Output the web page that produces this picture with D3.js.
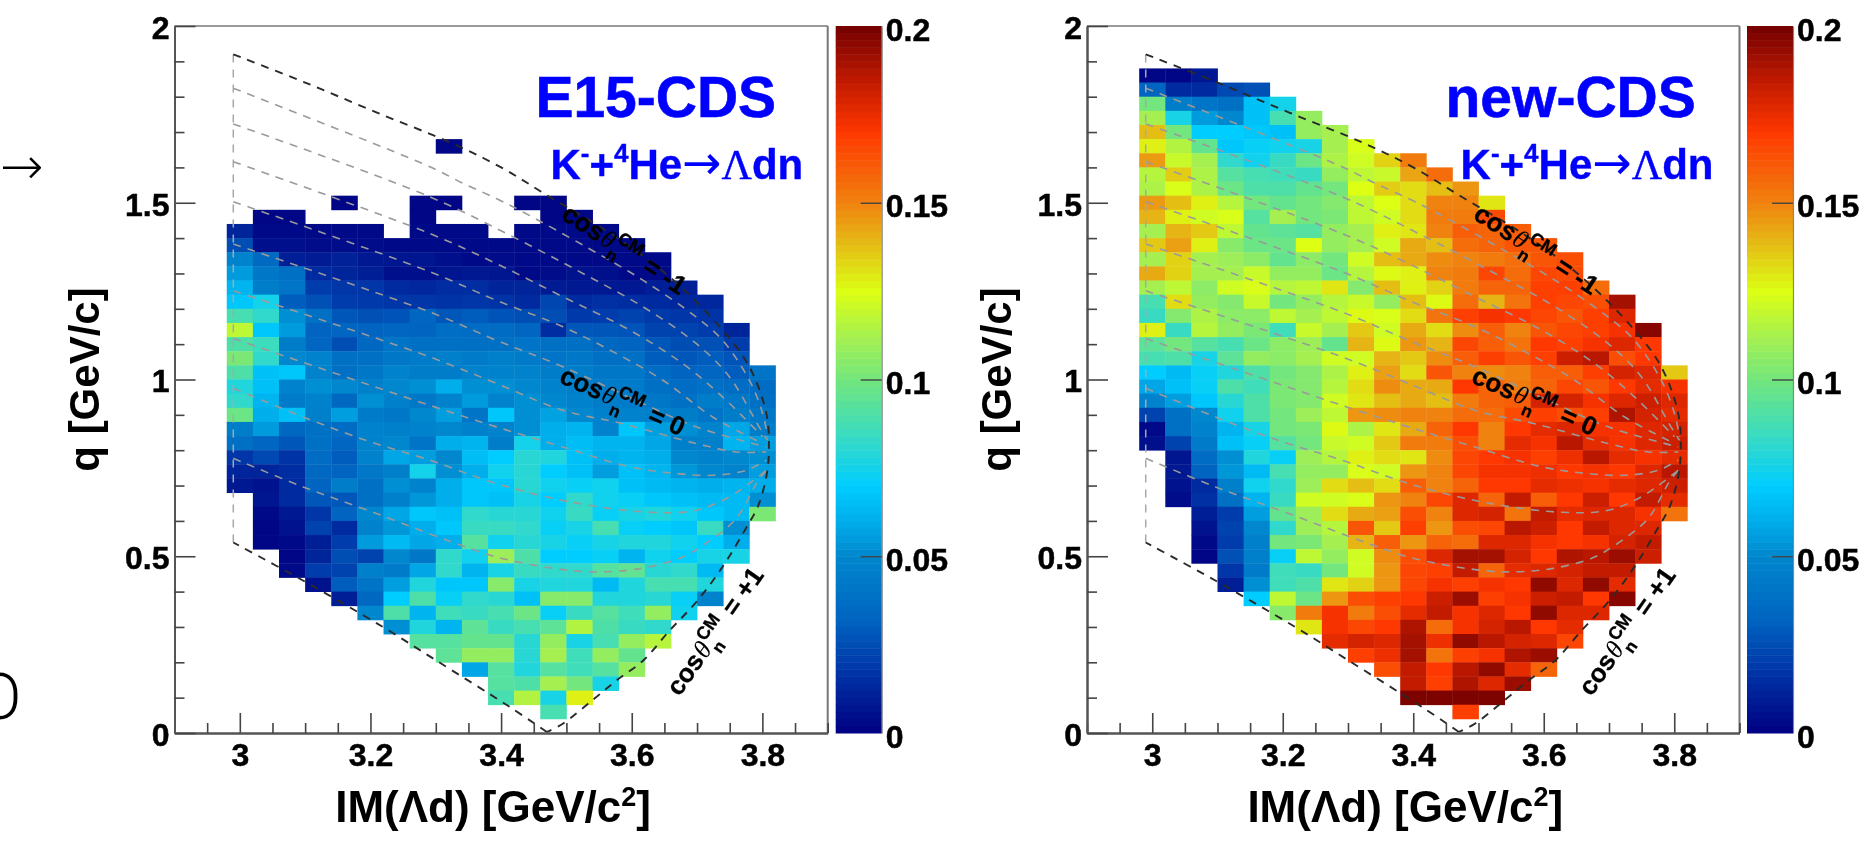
<!DOCTYPE html>
<html><head><meta charset="utf-8">
<style>
html,body{margin:0;padding:0;background:#fff;overflow:hidden}
svg{display:block;filter:blur(0.75px)}
text{font-family:"Liberation Sans",Arial,sans-serif;font-weight:700}
</style>
<script src="https://cdn.jsdelivr.net/npm/d3@7/dist/d3.min.js"></script>
</head><body><svg id="c" width="1863" height="846"></svg>
<script>
// Bins (GeV): first column left edge, first row top edge, bin widths
const binX0 = 2.98, binQTop = 1.88, binW = 0.04;
// value scale in thousandths; rows run from the top of the plot (k=0) downward
const e15Start = [0,0,0,0,0,8,0,0,0,4,1,0,0,0,0,0,0,0,0,0,0,0,0,0,0,0,0,0,0,0,1,1,1,1,2,2,3,4,5,6,7,8,9,10,10,12];
const e15Rows = [
[],[],[],[],[],[2],[],[],[],
[2,null,null,2,2,null,null,2,2],
[2,2,null,null,null,null,2,null,null,null,null,2,2],
[12,3,3,3,3,3,null,3,3,3,null,3,3,3,3],
[25,5,5,4,4,4,3,3,3,3,3,3,3,3,3,3],
[48,35,10,9,11,8,7,7,5,3,4,3,3,3,3,3,3],
[55,42,38,14,12,10,5,5,7,8,7,3,4,6,5,3,3],
[62,45,40,20,18,18,14,13,15,15,12,12,9,8,8,8,10,10],
[68,75,30,26,20,19,18,18,17,18,17,14,23,14,16,15,14,13,13],
[88,82,52,38,28,26,27,33,28,30,27,25,25,19,20,22,19,18,17],
[118,68,55,32,33,32,33,32,37,36,36,33,15,28,28,27,22,22,20,12],
[90,85,45,33,25,34,40,38,38,38,38,40,38,38,34,32,28,25,26,20],
[102,82,50,48,38,38,42,44,46,44,46,44,40,42,38,38,30,28,30,27],
[90,66,68,48,38,42,48,45,45,48,48,48,45,45,42,42,36,32,33,30,40],
[78,66,48,52,50,46,50,52,60,52,52,50,48,46,44,44,38,36,38,36,36],
[82,62,44,47,34,52,46,42,48,55,48,52,50,48,45,44,42,38,45,42,38],
[98,60,66,46,56,44,42,50,56,40,68,52,57,50,47,48,46,45,40,45,42],
[45,55,34,38,36,48,46,48,50,47,48,52,60,62,48,68,56,52,48,58,45],
[38,33,28,38,33,48,50,40,60,62,45,75,60,65,62,62,58,46,46,62,56],
[18,24,17,36,30,48,58,56,50,65,70,80,78,66,60,62,60,50,48,50,52],
[12,12,15,34,32,42,46,75,52,60,74,80,70,66,56,66,62,54,50,48,56],
[8,6,14,32,45,38,52,48,60,68,68,80,74,72,74,66,64,62,60,62,60],
[7,14,28,28,38,46,54,60,68,66,76,70,82,74,72,68,66,64,64,52],
[3,8,18,32,50,58,68,66,82,80,80,74,84,72,76,78,74,68,64,102],
[2,6,22,14,48,54,60,68,84,84,82,72,76,88,72,70,68,84,52],
[2,3,10,20,55,64,58,60,92,74,80,76,72,76,78,78,74,70,60],
[2,12,25,22,50,42,82,74,110,90,70,70,72,62,74,70,76,76],
[3,20,22,46,44,58,82,62,76,84,82,82,92,95,80,82,64],
[6,30,40,56,78,68,68,105,76,78,78,64,78,88,88,78],
[10,34,70,90,72,82,80,66,105,105,78,78,80,72,48],
[50,90,62,86,84,88,98,72,84,92,86,108,74],
[52,78,62,94,84,88,94,115,90,84,82],
[92,92,96,96,80,108,76,88,108,116],
[94,108,108,80,112,86,108,96],
[58,92,78,92,86,92,108],
[92,90,112,100,76],
[88,115,76,128],
[88]
];
const newStart = [0,0,0,0,0,0,0,0,0,0,0,0,0,0,0,0,0,0,0,0,0,0,0,0,0,0,0,1,1,1,1,2,2,2,2,3,3,4,5,6,7,8,9,10,10,12];
const newRows = [
[2,2,8],
[32,14,14,24,26],
[100,45,40,38,66,75],
[112,76,55,50,66,88,108],
[138,100,70,70,68,66,108,112],
[128,115,96,68,72,74,76,112,124],
[145,120,112,82,74,84,98,114,122,134,152],
[116,135,114,92,88,86,84,108,118,120,143,156],
[114,124,114,98,90,90,96,100,125,135,132,138,146],
[145,138,128,116,100,96,100,104,118,125,132,150,150,130],
[140,128,122,124,92,112,100,102,118,122,132,152,152,165],
[112,140,136,118,96,94,92,108,112,128,130,150,160,158,160],
[136,144,128,105,98,98,125,108,112,122,142,138,156,158,162,162],
[112,134,112,110,106,96,106,100,122,138,142,148,150,152,155,162,164],
[142,134,112,112,120,108,108,98,116,126,128,150,152,166,156,166,165],
[112,118,106,122,124,116,118,130,104,138,128,134,152,158,158,168,168,156],
[88,132,108,104,120,100,108,116,120,108,138,126,156,140,154,168,166,164,190],
[84,104,114,106,106,118,112,118,126,124,132,154,168,172,170,166,162,168,178],
[128,84,116,108,102,86,120,112,136,122,142,132,148,160,150,162,166,168,172,196],
[94,100,92,88,98,106,110,96,140,126,146,140,166,160,154,170,168,172,178,170],
[88,90,76,94,108,106,112,122,122,140,136,148,160,168,162,168,182,186,164,170],
[70,64,72,78,90,100,104,114,128,144,132,162,150,148,150,160,160,168,180,178,136],
[58,66,72,90,86,102,104,116,132,148,142,142,170,158,152,158,166,162,170,176,172],
[48,56,68,80,90,102,104,122,130,138,142,138,152,158,160,180,180,172,178,182,178],
[22,38,50,74,90,100,110,118,146,148,150,150,156,156,165,168,164,168,188,180,176],
[3,38,48,62,76,100,102,126,114,130,142,158,170,150,170,176,178,172,172,178,180],
[5,22,44,66,72,92,100,120,122,136,152,152,164,150,176,172,186,176,172,178,182],
[7,36,52,78,72,110,116,128,132,130,148,166,170,172,168,174,186,176,172,176],
[8,32,54,64,88,108,108,124,122,146,150,166,172,172,174,170,172,170,178,186],
[6,14,46,74,82,110,132,138,132,160,150,158,170,170,176,174,172,176,178,182],
[4,16,38,62,84,122,122,124,146,150,166,178,158,184,160,170,182,170,184,176],
[10,20,56,96,110,132,142,144,164,150,178,180,154,184,176,178,178,172,154],
[6,22,50,82,110,116,162,136,168,146,164,166,186,182,170,184,178,178],
[3,20,46,100,102,112,140,160,146,158,156,178,178,172,170,172,180,184],
[2,26,46,72,118,108,122,148,164,178,190,190,180,170,188,186,192,182],
[18,44,86,84,100,122,146,166,168,184,158,176,178,180,184,184],
[10,52,86,90,130,134,146,166,172,168,172,170,194,178,194,176],
[70,118,98,146,164,168,170,182,192,168,172,182,184,170,196],
[105,152,172,152,164,176,184,172,178,170,194,178,178],
[130,172,166,170,188,156,172,180,186,170,176],
[176,180,178,190,174,194,186,180,178,166],
[168,174,190,154,168,172,188,192],
[164,184,170,186,194,176,158],
[184,168,188,178,192],
[198,198,198,198],
[168]
];
// Colour bar stops: value (thousandths) -> colour
const paletteValues = [0,10,20,32,50,60,70,85,100,112,125,140,150,170,185,200];
const paletteColors = ["#000082","#001e96","#003cac","#0064c0","#0087cd","#00aeeb","#00cdff","#3cdcbe","#73e67d","#a5f050","#dcff14","#e6b414","#f0820f","#ff3700","#be1900","#730000"];
// Kinematic contours, read as [IM, q] pairs
const upperEdge = [[2.99,1.92],[3.10,1.84],[3.21,1.755],[3.325,1.668],[3.40,1.60],[3.474,1.517],[3.57,1.41],[3.658,1.29],[3.739,1.14],[3.78,1.036],[3.806,0.905],[3.81,0.80],[3.806,0.725],[3.793,0.64],[3.776,0.583],[3.739,0.47],[3.699,0.371],[3.658,0.29],[3.618,0.206],[3.577,0.149],[3.54,0.093],[3.495,0.027],[3.47,0.003]];
const lowerEdge = [[3.47,0.003],[3.413,0.074],[3.30,0.206],[3.219,0.30],[3.096,0.432],[2.99,0.539]];
const leftEdge = [[2.99,0.539],[2.99,1.92]];
const contours = [
[[2.99,1.824],[3.2907,1.602],[3.3417,1.555],[3.3926,1.512],[3.4334,1.474],[3.5303,1.375],[3.617,1.281],[3.6985,1.177],[3.739,1.111],[3.78,0.998],[3.8004,0.904],[3.808,0.838]],
[[2.99,1.723],[3.2907,1.517],[3.4283,1.394],[3.5252,1.300],[3.617,1.206],[3.6985,1.102],[3.7494,1.008],[3.795,0.866],[3.808,0.828]],
[[2.99,1.616],[3.2907,1.413],[3.3926,1.328],[3.4946,1.234],[3.5966,1.140],[3.678,1.045],[3.739,0.951],[3.8004,0.838]],
[[2.99,1.503],[3.2907,1.305],[3.3926,1.224],[3.4946,1.149],[3.576,1.074],[3.6475,0.998],[3.724,0.894],[3.8004,0.819]],
[[2.99,1.383],[3.2907,1.191],[3.3926,1.111],[3.4946,1.036],[3.617,0.932],[3.6985,0.866],[3.806,0.809]],
[[2.99,1.251],[3.2907,1.064],[3.3926,0.989],[3.4946,0.913],[3.586,0.875],[3.6985,0.819],[3.76,0.795],[3.806,0.795]],
[[2.99,1.116],[3.2907,0.927],[3.3926,0.866],[3.4946,0.809],[3.5966,0.753],[3.668,0.734],[3.724,0.729],[3.775,0.743],[3.806,0.772]],
[[2.99,0.975],[3.097,0.894],[3.199,0.824],[3.2907,0.772],[3.3926,0.706],[3.5048,0.654],[3.622,0.625],[3.6985,0.630],[3.7494,0.668],[3.78,0.706],[3.806,0.743]],
[[2.99,0.777],[3.097,0.696],[3.209,0.621],[3.331,0.536],[3.403,0.493],[3.505,0.46],[3.556,0.456],[3.612,0.465],[3.673,0.494],[3.709,0.531],[3.76,0.607],[3.791,0.706],[3.806,0.743]]
];
const xMajor = [3,3.2,3.4,3.6,3.8];
const xMinor = [2.9,2.95,3.05,3.1,3.15,3.25,3.3,3.35,3.45,3.5,3.55,3.65,3.7,3.75,3.85,3.9];
const yMajor = [0,0.5,1,1.5,2];
const yMinor = [0.1,0.2,0.3,0.4,0.6,0.7,0.8,0.9,1.1,1.2,1.3,1.4,1.6,1.7,1.8,1.9];
const zTicks = [0.05,0.1,0.15];
const zLabelTicks = [0,0.05,0.1,0.15,0.2];
const cosLabels = [
 {im:3.49,q:1.457,a:33,v:"= -1"},
 {im:3.487,q:0.993,a:24,v:"= 0"},
 {im:3.673,q:0.101,a:-55,v:"= +1"}
];

const svg = d3.select("#c");
const color = d3.scaleLinear().domain(paletteValues).range(paletteColors).clamp(true);
const yTop = 26, yBot = 733;
const heavy = s => s.attr("stroke","currentColor").attr("stroke-width",0.5);

function panel(cfg){
  const x = d3.scaleLinear().domain([2.9,3.9]).range([cfg.left,cfg.right]);
  const y = d3.scaleLinear().domain([0,2]).range([yBot,yTop]);
  const g = svg.append("g");
  // cells
  const cells = [];
  cfg.rows.forEach((r,k)=>r.forEach((v,i)=>{ if(v!=null) cells.push({k,c:cfg.start[k]+i,v}); }));
  g.selectAll("rect.cell").data(cells).join("rect").attr("class","cell")
    .attr("x",d=>x(binX0+d.c*binW)).attr("width",d=>x(binX0+(d.c+1)*binW)-x(binX0+d.c*binW)+0.4)
    .attr("y",d=>y(binQTop-d.k*binW)).attr("height",d=>y(binQTop-(d.k+1)*binW)-y(binQTop-d.k*binW)+0.4)
    .attr("fill",d=>color(d.v));
  // contours
  const line = d3.line().x(d=>x(d[0])).y(d=>y(d[1])).curve(d3.curveCatmullRom.alpha(0.5));
  const straight = d3.line().x(d=>x(d[0])).y(d=>y(d[1]));
  g.selectAll("path.ct").data(contours).join("path").attr("class","ct")
    .attr("d",line).attr("fill","none").attr("stroke","#9a9a9a").attr("stroke-width",1.6).attr("stroke-dasharray","8 7");
  g.append("path").attr("d",straight(leftEdge)).attr("fill","none").attr("stroke","#a8a8a8").attr("stroke-width",1.5).attr("stroke-dasharray","8 7");
  [upperEdge,lowerEdge].forEach(e=>g.append("path").attr("d",line(e)).attr("fill","none").attr("stroke","#2a2a2a").attr("stroke-width",1.9).attr("stroke-dasharray","8 7"));
  // frame
  g.append("line").attr("x1",cfg.left).attr("x2",cfg.right).attr("y1",yTop).attr("y2",yTop).attr("stroke","#999").attr("stroke-width",2);
  g.append("line").attr("x1",cfg.right).attr("x2",cfg.right).attr("y1",yTop).attr("y2",yBot).attr("stroke","#777").attr("stroke-width",2);
  // axes
  const ax = (gen,vals,size,fmt)=>{
    const a = g.append("g").attr("transform",gen==="b"?`translate(0,${yBot})`:`translate(${cfg.left},0)`);
    const ag = gen==="b"?d3.axisBottom(x):d3.axisLeft(y);
    ag.tickValues(vals).tickSizeInner(size).tickSizeOuter(0).tickPadding(gen==="b"?-size+10:-size+5).tickFormat(fmt||"");
    a.call(ag);
    a.selectAll("path").attr("stroke","#555").attr("stroke-width",2);
    a.selectAll("line").attr("stroke","#444").attr("stroke-width",1.6);
    a.selectAll("text").attr("fill","#000").attr("stroke","#000").attr("stroke-width",0.5).style("font-size","32px").style("font-family",'"Liberation Sans"').style("font-weight",700);
    return a;
  };
  const xa = ax("b",xMajor,-20,d3.format(".3~f"));
  xa.selectAll("text").attr("y",33).attr("dy","0");
  ax("b",xMinor,-10);
  const ya = ax("l",yMajor,-21,d3.format(".2~f"));
  ya.selectAll("text").attr("x",-5).attr("dy","0.39em");
  ax("l",yMinor,-10);
  // titles
  g.append("text").attr("x",(cfg.left+cfg.right)/2-8).attr("y",822).attr("text-anchor","middle").style("font-size","44px")
    .html('IM(Λd) [GeV/c<tspan dy="-16" font-size="27">2</tspan><tspan dy="16">]</tspan>');
  g.append("text").attr("transform",`translate(${cfg.left-76},${(yTop+yBot)/2}) rotate(-90)`).attr("text-anchor","middle").style("font-size","42px").text("q [GeV/c]");
  // tag
  g.append("text").attr("x",x(cfg.tagIM)).attr("y",116.7).attr("fill","#0000ff").attr("stroke","#0000ff").attr("stroke-width",0.6).style("font-size","57px").text(cfg.tag);
  g.append("text").attr("x",x(cfg.tagIM)+15).attr("y",179).attr("fill","#0000ff").attr("stroke","#0000ff").attr("stroke-width",0.4).style("font-size","42px")
    .html('K<tspan dy="-17" font-size="26">-</tspan><tspan dy="17">+</tspan><tspan dy="-17" font-size="26">4</tspan><tspan dy="17">He</tspan><tspan style="font-weight:400;font-family:\'DejaVu Sans\';font-size:47px" stroke-width="0">→</tspan><tspan style="font-weight:400;font-family:\'Liberation Serif\'">Λ</tspan>dn');
  // cos labels
  cosLabels.forEach(l=>{
    g.append("text").attr("transform",`translate(${x(l.im)},${y(l.q)}) rotate(${l.a})`).attr("fill","#000").attr("stroke","#000").attr("stroke-width",0.3).style("font-size","26px")
     .html(`cos<tspan style="font-family:'Liberation Serif';font-style:italic;font-weight:400" stroke-width="0" dx="1">θ</tspan><tspan dy="9" font-size="17">n</tspan><tspan dy="-20" dx="-9" font-size="18">CM</tspan><tspan dy="11" dx="9">${l.v}</tspan>`);
  });
  // colour bar
  const z = d3.scaleLinear().domain([0,0.2]).range([yBot,yTop]);
  const bands = d3.range(0,200,2);
  g.selectAll("rect.band").data(bands).join("rect").attr("class","band")
    .attr("x",cfg.barL).attr("width",cfg.barR-cfg.barL)
    .attr("y",d=>z((d+2)/1000)).attr("height",d=>z(d/1000)-z((d+2)/1000)+0.5)
    .attr("fill",d=>color(d+1));
  const za = g.append("g").attr("transform",`translate(${cfg.barR},0)`);
  za.call(d3.axisRight(z).tickValues(zTicks).tickSizeInner(-21).tickSizeOuter(0).tickFormat(""));
  za.selectAll("path").attr("stroke","#555").attr("stroke-opacity",0.7).attr("stroke-width",1.2);
  za.selectAll("line").attr("stroke","#444").attr("stroke-width",1.4);
  g.selectAll("text.zl").data(zLabelTicks).join("text").attr("class","zl")
    .attr("x",cfg.barR+4).attr("y",d=>z(d)+14.5).attr("stroke","#000").attr("stroke-width",0.5).style("font-size","32px").text(d3.format(".2~f"));
}

panel({left:174.5,right:827.7,barL:835.7,barR:881.7,rows:e15Rows,start:e15Start,tag:"E15-CDS",tagIM:3.4525});
panel({left:1087,right:1739.5,barL:1747,barR:1793,rows:newRows,start:newStart,tag:"new-CDS",tagIM:3.4495});

// slide fragments at the left edge
svg.append("text").attr("x",0).attr("y",184).style("font-family","'DejaVu Sans'").style("font-weight",200).style("font-size","52px").text("→");
svg.append("text").attr("x",-22).attr("y",719).style("font-family","Roboto").style("font-weight",300).style("font-size","64px").text("O");
</script></body></html>
